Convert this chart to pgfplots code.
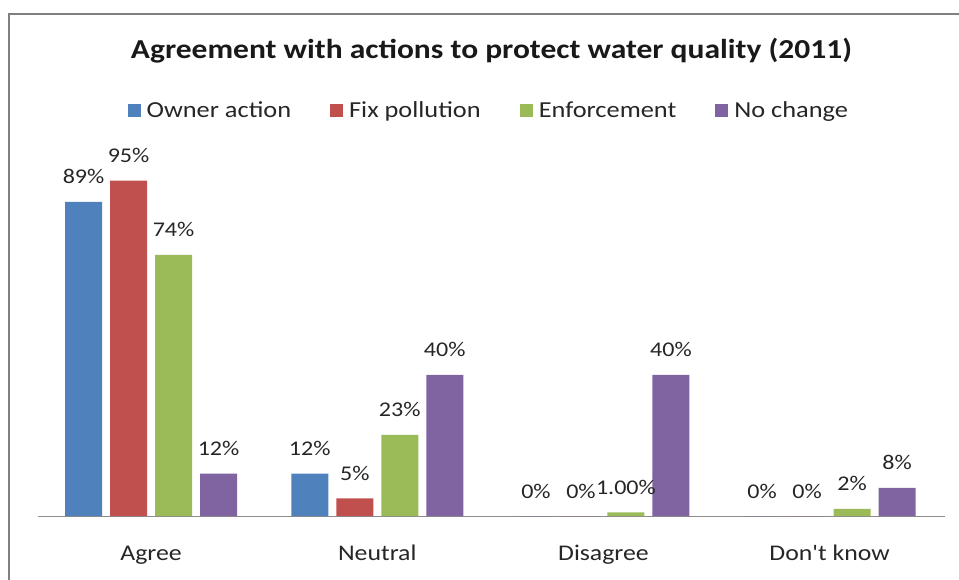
\documentclass[border=0pt]{standalone}
\usepackage{fontspec}
\setmainfont{Carlito}[FakeStretch=1.15, Ligatures=TeXOff]
\usepackage{pgfplots}
\pgfplotsset{compat=1.18}
\definecolor{cblue}{HTML}{4F81BD}
\definecolor{cred}{HTML}{C0504D}
\definecolor{cgreen}{HTML}{9BBB59}
\definecolor{cpurple}{HTML}{8064A2}
\begin{document}
\begin{tikzpicture}
\useasboundingbox (0,0) rectangle (959bp,580bp);
\draw[color=black!50, line width=2bp] (9bp,-10bp) -- (9bp,566bp) -- (975bp,566bp);
\begin{axis}[
  at={(38bp,64bp)}, anchor=south west,
  scale only axis, width=907bp, height=353bp,
  xmin=-0.5, xmax=3.51, ymin=0, ymax=100,
  ybar=8bp, bar width=37bp,
  axis x line*=bottom, axis y line=none,
  x axis line style={color=black!45, line width=0.8bp, -},
  xtick={0,1,2,3}, xticklabels={Agree,Neutral,Disagree,Don't know},
  xtick style={draw=none},
  xticklabel style={font=\fontsize{22.5}{26}\selectfont, anchor=base, yshift=-40bp, text=black!85},
  point meta=explicit symbolic,
  nodes near coords={\pgfplotspointmeta},
  every node near coord/.append style={font=\fontsize{21}{24}\selectfont, anchor=base, inner sep=0pt, yshift=18bp, text=black!85},
  title={\bfseries Agreement with actions to protect water quality (2011)},
  title style={font=\fontsize{27.5}{32}\selectfont, at={(axis description cs:0.5,1.30)}, anchor=center, text=black!90},
  legend columns=4,
  legend style={draw=none, fill=none, at={(axis description cs:0.497,1.148)}, anchor=center,
    font=\fontsize{23}{26}\selectfont, text=black!85,
    /tikz/every odd column/.append style={column sep=4bp},
    /tikz/every even column/.append style={column sep=37bp}},
  legend image code/.code={\fill[#1] (0bp,-6bp) rectangle (13bp,7bp);},
  clip=false,
]
\addplot[fill=cblue, draw=none] coordinates {(0,89)[89\%] (1,12)[12\%] (2,0)[0\%] (3,0)[0\%]};
\addplot[fill=cred, draw=none] coordinates {(0,95)[95\%] (1,5)[5\%] (2,0)[0\%] (3,0)[0\%]};
\addplot[fill=cgreen, draw=none] coordinates {(0,74)[74\%] (1,23)[23\%] (2,1)[1.00\%] (3,2)[2\%]};
\addplot[fill=cpurple, draw=none] coordinates {(0,12)[12\%] (1,40)[40\%] (2,40)[40\%] (3,8)[8\%]};
\legend{Owner action, Fix pollution, Enforcement, No change}
\end{axis}
\end{tikzpicture}
\end{document}
